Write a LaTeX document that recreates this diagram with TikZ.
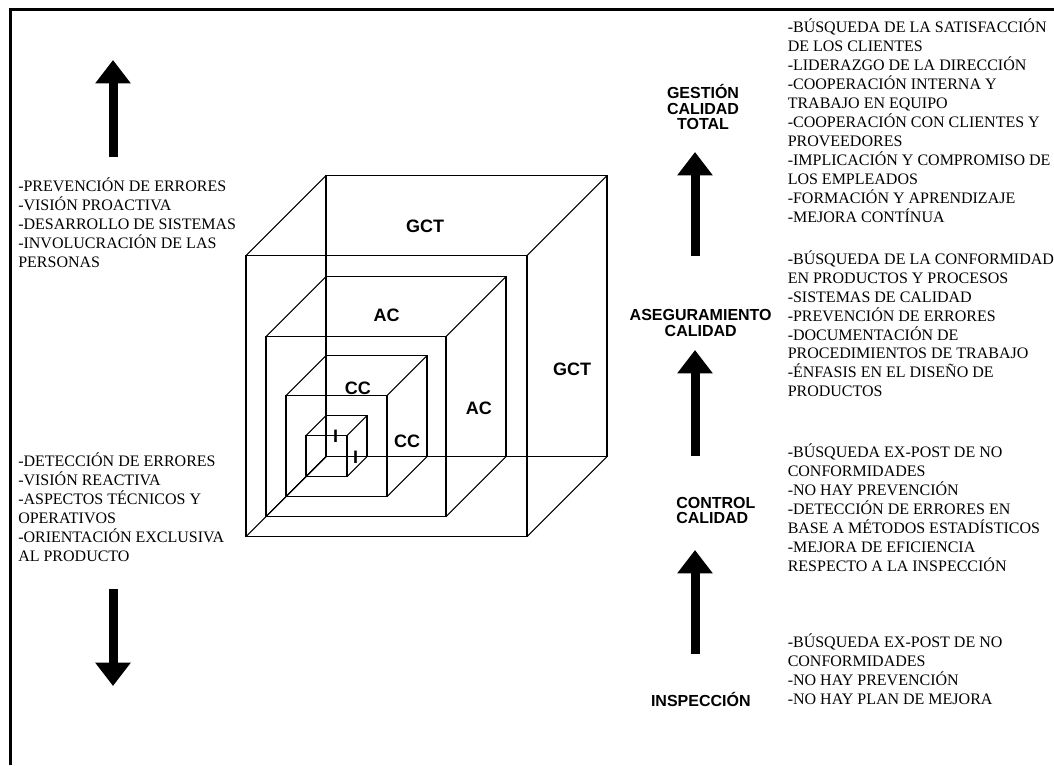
\documentclass[tikz,border=0pt]{standalone}
\usepackage{fontspec}
\setmainfont{Liberation Serif}
\setsansfont{Liberation Sans}
\usetikzlibrary{calc, arrows.meta}

\begin{document}
\begin{tikzpicture}[x=0.75pt, y=-0.75pt,
    cube/.style={black, line width=0.8pt},
    bigarrow/.style={line width=6.75pt, -{Triangle[length=17.5pt, width=25.5pt]}},
    rasgo/.style={anchor=north west, align=left, inner sep=0pt, font=\fontsize{12}{14.2}\selectfont},
    etapa/.style={align=center, inner sep=0pt, font=\sffamily\bfseries\fontsize{12}{11.5}\selectfont},
    nivel/.style={inner sep=0pt, font=\sffamily\bfseries\fontsize{13.5}{16}\selectfont}]
                \useasboundingbox (0,0) rectangle (1054,765);
                \draw[line width=2.25pt] (10,765) -- (10,9) -- (1054,9);
                \coordinate (O) at (326,456.7);
                \foreach \s/\d in {281/80, 180/60, 101/40, 41/20}{
                    \draw[cube] (O) rectangle ++(\s,-\s);
                    \draw[cube] ($(O)+(-\d,\d)$) rectangle ++(\s,-\s);
                    \draw[cube] (O) -- ++(-\d,\d);
                    \draw[cube] ($(O)+(\s,0)$) -- ++(-\d,\d);
                    \draw[cube] ($(O)+(\s,-\s)$) -- ++(-\d,\d);
                    \draw[cube] ($(O)+(0,-\s)$) -- ++(-\d,\d);
                }
                \node[nivel] (gctT) at (425,226.7) {GCT};
                \node[nivel] (gctR) at (572,369) {GCT};
                \node[nivel] (acT) at (386.5,315.7) {AC};
                \node[nivel] (acR) at (478.8,408) {AC};
                \node[nivel] (ccT) at (357.8,388.3) {CC};
                \node[nivel] (ccR) at (407,441.7) {CC};
                \node[nivel] (iT) at (335.5,436) {I};
                \node[nivel] (iR) at (355.7,457) {I};
                \coordinate (proS) at (113,157); \coordinate (proE) at (113,60);
                \coordinate (reaS) at (113,589); \coordinate (reaE) at (113,686);
                \draw[bigarrow] (proS) -- (proE);
                \draw[bigarrow] (reaS) -- (reaE);
                \node[rasgo] (pro) at (18,177.7) {-PREVENCIÓN DE ERRORES\\-VISIÓN PROACTIVA\\-DESARROLLO DE SISTEMAS\\-INVOLUCRACIÓN DE LAS\\PERSONAS};
                \node[rasgo] (rea) at (18,452.7) {-DETECCIÓN DE ERRORES\\-VISIÓN REACTIVA\\-ASPECTOS TÉCNICOS Y\\OPERATIVOS\\-ORIENTACIÓN EXCLUSIVA\\AL PRODUCTO};
                \node[etapa] (gct) at (703,107) {GESTIÓN\\CALIDAD\\TOTAL};
                \node[etapa] (ac) at (700.7,323) {ASEGURAMIENTO\\CALIDAD};
                \node[etapa, anchor=west, align=left] (cc) at (676,510.3) {CONTROL\\CALIDAD};
                \node[etapa, anchor=base] (insp) at (700.8,706.7) {INSPECCIÓN};
                \coordinate (a1S) at (695,256); \coordinate (a1E) at (695,152);
                \coordinate (a2S) at (695,456); \coordinate (a2E) at (695,350);
                \coordinate (a3S) at (695,654); \coordinate (a3E) at (695,550);
                \draw[bigarrow] (a1S) -- (a1E);
                \draw[bigarrow] (a2S) -- (a2E);
                \draw[bigarrow] (a3S) -- (a3E);
                \node[rasgo] (gctList) at (787.5,18.7) {-BÚSQUEDA DE LA SATISFACCIÓN\\DE LOS CLIENTES\\-LIDERAZGO DE LA DIRECCIÓN\\-COOPERACIÓN INTERNA Y\\TRABAJO EN EQUIPO\\-COOPERACIÓN CON CLIENTES Y\\PROVEEDORES\\-IMPLICACIÓN Y COMPROMISO DE\\LOS EMPLEADOS\\-FORMACIÓN Y APRENDIZAJE\\-MEJORA CONTÍNUA};
                \node[rasgo] (acList) at (787.5,250.3) {-BÚSQUEDA DE LA CONFORMIDAD\\EN PRODUCTOS Y PROCESOS\\-SISTEMAS DE CALIDAD\\-PREVENCIÓN DE ERRORES\\-DOCUMENTACIÓN DE\\PROCEDIMIENTOS DE TRABAJO\\-ÉNFASIS EN EL DISEÑO DE\\PRODUCTOS};
                \node[rasgo] (ccList) at (787.5,443.7) {-BÚSQUEDA EX-POST DE NO\\CONFORMIDADES\\-NO HAY PREVENCIÓN\\-DETECCIÓN DE ERRORES EN\\BASE A MÉTODOS ESTADÍSTICOS\\-MEJORA DE EFICIENCIA\\RESPECTO A LA INSPECCIÓN};
                \node[rasgo] (inspList) at (787.5,633.3) {-BÚSQUEDA EX-POST DE NO\\CONFORMIDADES\\-NO HAY PREVENCIÓN\\-NO HAY PLAN DE MEJORA};
            \end{tikzpicture}
\end{document}
